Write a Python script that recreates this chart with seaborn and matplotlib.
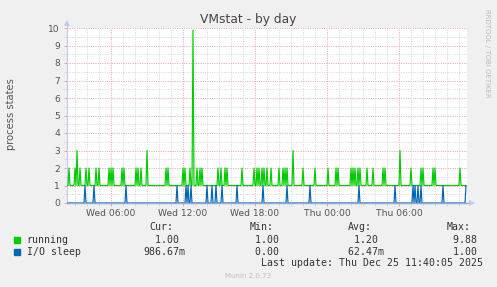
import numpy as np
import pandas as pd
import matplotlib
matplotlib.use("Agg")
import matplotlib.pyplot as plt
import matplotlib.dates as mdates
import seaborn as sns

# ---------------- data ----------------
start_time = "2025-12-24 02:20"   # Wed 02:20, 5-minute samples
n_samples = 400
days = {"Wed": "2025-12-24", "Thu": "2025-12-25"}

running_baseline = 1.0
running_spike_times = [
    "Wed 02:30", "Wed 03:00", "Wed 03:10", "Wed 03:25", "Wed 03:55", "Wed 04:10",
    "Wed 04:45", "Wed 05:00", "Wed 05:50", "Wed 06:00", "Wed 06:10", "Wed 06:55",
    "Wed 07:05", "Wed 08:05", "Wed 08:15", "Wed 08:30", "Wed 09:00", "Wed 10:35",
    "Wed 10:45", "Wed 12:00", "Wed 12:10", "Wed 12:35", "Wed 12:50", "Wed 13:10",
    "Wed 13:25", "Wed 13:35", "Wed 14:55", "Wed 15:10", "Wed 15:30", "Wed 15:40",
    "Wed 16:55", "Wed 17:55", "Wed 18:10", "Wed 18:20", "Wed 18:35", "Wed 18:45",
    "Wed 19:00", "Wed 19:20", "Wed 20:00", "Wed 20:20", "Wed 20:30", "Wed 20:40",
    "Wed 21:10", "Wed 22:00", "Wed 23:00", "Thu 00:05", "Thu 00:45", "Thu 00:55",
    "Thu 02:00", "Thu 02:10", "Thu 02:20", "Thu 02:35", "Thu 02:45", "Thu 03:20",
    "Thu 03:50", "Thu 04:40", "Thu 04:50", "Thu 06:05", "Thu 07:00", "Thu 07:50",
    "Thu 08:00", "Thu 08:50", "Thu 09:00", "Thu 11:05",
]
running_spike_values = [
    2, 2, 3, 2, 2, 2,
    2, 2, 2, 2, 2, 2,
    2, 2, 2, 2, 3, 2,
    2, 2, 2, 2, 9.88, 2,
    2, 2, 2, 2, 2, 2,
    2, 2, 2, 2, 2, 2,
    2, 2, 2, 2, 2, 2,
    3, 2, 2, 2, 2, 2,
    2, 2, 2, 2, 2, 2,
    2, 2, 2, 3, 2, 2,
    2, 2, 2, 2,
]

iosleep_baseline = 0.0
iosleep_spike_times = [
    "Wed 03:50", "Wed 04:35", "Wed 07:15", "Wed 11:30", "Wed 12:15", "Wed 12:25",
    "Wed 12:40", "Wed 14:00", "Wed 14:25", "Wed 14:45", "Wed 15:15", "Wed 16:30",
    "Wed 18:40", "Wed 20:40", "Wed 22:35", "Thu 02:40", "Thu 05:40", "Thu 07:10",
    "Thu 07:20", "Thu 07:35", "Thu 07:50", "Thu 09:40", "Thu 11:35",
]
iosleep_spike_values = [1] * 22 + [0.98667]

xtick_times = ["Wed 06:00", "Wed 12:00", "Wed 18:00", "Thu 00:00", "Thu 06:00"]
xtick_labels = ["Wed 06:00", "Wed 12:00", "Wed 18:00", "Thu 00:00", "Thu 06:00"]
yticks = list(range(0, 11))

legend_names = ["running", "I/O sleep"]
legend_colors = ["#00CC00", "#0066B3"]
stat_cur = ["  1.00 ", "986.67m"]
stat_min = ["  1.00 ", "  0.00 "]
stat_avg = ["  1.20 ", " 62.47m"]
stat_max = ["  9.88 ", "  1.00 "]
last_update = "Last update: Thu Dec 25 11:40:05 2025"


def to_ts(s):
    d, t = s.split()
    return pd.Timestamp(f"{days[d]} {t}")


times = pd.date_range(start_time, periods=n_samples, freq="5min")
running = pd.Series(running_baseline, index=times)
for t, v in zip(running_spike_times, running_spike_values):
    running[to_ts(t)] = v
iosleep = pd.Series(iosleep_baseline, index=times)
for t, v in zip(iosleep_spike_times, iosleep_spike_values):
    iosleep[to_ts(t)] = v

df = pd.DataFrame({"time": times, "running": running.values, "iosleep": iosleep.values})

# ---------------- figure ----------------
W, H = 497, 287
fig = plt.figure(figsize=(W / 100, H / 100), dpi=100)
fig.patch.set_facecolor("#F0F0F0")

px_l, px_r, px_t, px_b = 67, 467, 28, 203
ax = fig.add_axes([px_l / W, 1 - px_b / H, (px_r - px_l) / W, (px_b - px_t) / H])
ax.set_facecolor("white")

x0 = pd.Timestamp(start_time)
x1 = x0 + pd.Timedelta(minutes=5 * n_samples)
ax.set_xlim(x0, x1)
ax.set_ylim(0, 10)

# grids
major_c = "#E9A3A3"
minor_c = "#D6D6D6"
ax.set_yticks(yticks)
ax.set_yticks(np.arange(0.5, 10, 1.0), minor=True)
ax.set_xticks([to_ts(t) for t in xtick_times])
ax.set_xticklabels(xtick_labels)
ax.xaxis.set_minor_locator(mdates.HourLocator())
ax.grid(which="minor", color=minor_c, linestyle=(0, (1, 1.4)), linewidth=0.7, zorder=0)
ax.grid(which="major", color=major_c, linestyle=(0, (1, 1.4)), linewidth=0.7, zorder=0)
ax.set_axisbelow(True)

for sp in ax.spines.values():
    sp.set_visible(False)

ax.tick_params(axis="both", which="major", length=2.5, width=0.7, color=major_c,
               labelsize=6.6, labelcolor="#555555")
ax.tick_params(axis="y", which="major", pad=2.5)
ax.tick_params(axis="x", which="major", pad=1.5)
ax.tick_params(axis="both", which="minor", length=2.5, width=0.7, color=minor_c)

# data lines
sns.lineplot(data=df, x="time", y="running", ax=ax, color=legend_colors[0],
             linewidth=0.85, zorder=3)
sns.lineplot(data=df, x="time", y="iosleep", ax=ax, color=legend_colors[1],
             linewidth=0.85, zorder=3)
ax.set_xlabel("")
ax.set_ylabel("")

# axis lines with arrows
axis_c = "#C4CCEE"
ax.plot([0, 1.012], [0, 0], transform=ax.transAxes, color="#93A8DA", lw=1.0,
        clip_on=False, zorder=5)
ax.plot([0, 0], [0, 1.03], transform=ax.transAxes, color=axis_c, lw=0.9,
        clip_on=False, zorder=2)
ax.plot([1.012], [0], transform=ax.transAxes, marker=">", color=axis_c, ms=4,
        clip_on=False, zorder=5, markeredgewidth=0)
ax.plot([0], [1.03], transform=ax.transAxes, marker="^", color=axis_c, ms=4,
        clip_on=False, zorder=5, markeredgewidth=0)

# texts
def ftxt(x, y, s, **kw):
    fig.text(x / W, 1 - y / H, s, **kw)

ftxt(248, 19, "VMstat - by day", ha="center", va="center", fontsize=8.8,
     color="#444444", family="DejaVu Sans")
ftxt(11, 114, "process states", ha="center", va="center", rotation=90,
     fontsize=7.2, color="#555555", family="DejaVu Sans")
ftxt(487, 53, "RRDTOOL / TOBI OETIKER", ha="center", va="center", rotation=270,
     fontsize=5.0, color="#BBBBBB", family="DejaVu Sans")

mono = dict(family="DejaVu Sans Mono", fontsize=7.1, color="#333333", va="center")
cw = 0.602 * 7.1 * 100 / 72  # char width in px
for x, lab in zip([149.3, 249.3, 348.3, 446.7], ["Cur:", "Min:", "Avg:", "Max:"]):
    ftxt(x, 227.3, lab, ha="left", **mono)

row_y = [239.7, 252.0]
col_ends = [179.0, 278.7, 377.7, 476.7]
for i in range(2):
    fig.patches.append(plt.Rectangle((14 / W, 1 - (row_y[i] + 3) / H), 6 / W, 6 / H,
                                     transform=fig.transFigure, color=legend_colors[i]))
    ftxt(26.7, row_y[i], legend_names[i], ha="left", **mono)
    for ce, col in zip(col_ends, [stat_cur, stat_min, stat_avg, stat_max]):
        ftxt(ce - 6 * cw, row_y[i], col[i], ha="left", **mono)

ftxt(261, 263.5, last_update, ha="left", **mono)
ftxt(248, 276, "Munin 2.0.73", ha="center", va="center", fontsize=5.0,
     color="#C0C0C0", family="DejaVu Sans")

fig.savefig("out.png", dpi=100, facecolor=fig.get_facecolor())
